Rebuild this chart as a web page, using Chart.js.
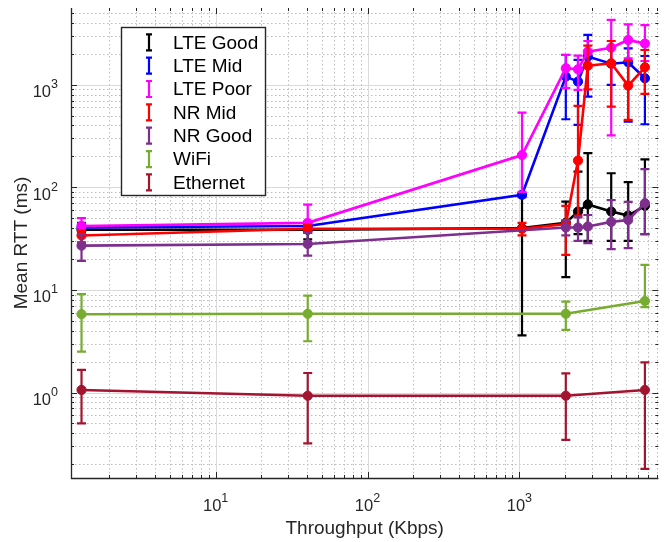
<!DOCTYPE html>
<html><head><meta charset="utf-8">
<script src="https://cdn.jsdelivr.net/npm/chart.js@4.4.0/dist/chart.umd.min.js"></script>
<style>html,body{margin:0;padding:0;background:#fff;overflow:hidden}canvas{display:block}</style>
</head><body>
<canvas id="c" width="664" height="542" style="width:664px;height:542px"></canvas>
<script>
// ---- data ----
const throughput = [1.31, 40.4, 1040, 2020, 2430, 2820, 4020, 5200, 6700];
const seriesNames = ['LTE Good', 'LTE Mid', 'LTE Poor', 'NR Mid', 'NR Good', 'WiFi', 'Ethernet'];
const seriesColors = ['#000000', '#0000ff', '#ff00ff', '#ff0000', '#7e2f8e', '#77ac30', '#a2142f'];

const lteGoodMean = [38.5, 38.5, 40, 45, 58, 68, 58, 53, 66];
const lteGoodLow  = [34, 31, 3.6, 13.3, 35, 30, 30, 30, 35];
const lteGoodHigh = [43, 45, 85, 72.6, 142, 215, 137, 112, 187];

const lteMidMean = [40.5, 42, 84.4, 1197, 1070, 1875, 1600, 1650, 1154];
const lteMidLow  = [37, 38, 80, 460, 405, 764, 993, 437, 411];
const lteMidHigh = [45, 46, 210, 1950, 1740, 3050, 2300, 2260, 1900];

const ltePoorMean = [42, 45, 206, 1445, 1410, 2095, 2290, 2725, 2510];
const ltePoorLow  = [38, 40, 90, 923, 888, 1500, 321, 1800, 1700];
const ltePoorHigh = [50, 67.6, 533, 1945, 1920, 2660, 4270, 3870, 3800];

const nrMidMean = [33.9, 39.4, 39.4, 43.8, 182, 1530, 1615, 978, 1475];
const nrMidLow  = [29, 36, 34, 21.9, 53, 900, 611, 453, 811];
const nrMidHigh = [38, 43, 45, 66, 620, 2400, 2660, 1700, 2176];

const nrGoodMean = [27, 28, null, 40.5, 40.5, 41.5, 46, 48, 70];
const nrGoodLow  = [19.2, 21.6, null, 34, 30, 28.6, 25, 25.5, 35];
const nrGoodHigh = [35, 36, null, 48, 51, 53.7, 75, 72, 150];

const wifiMean = [5.8, 5.85, null, 5.85, null, null, null, null, 7.8];
const wifiLow  = [2.5, 3.16, null, 4.07, null, null, null, null, 6.8];
const wifiHigh = [9.1, 8.8, null, 7.7, null, null, null, null, 17.5];

const ethMean = [1.06, 0.93, null, 0.93, null, null, null, null, 1.06];
const ethLow  = [0.5, 0.32, null, 0.345, null, null, null, null, 0.18];
const ethHigh = [1.66, 1.55, null, 1.54, null, null, null, null, 1.97];

const xTickValues = [10, 100, 1000];
const xTickExponents = ['1', '2', '3'];
const yTickValues = [1, 10, 100, 1000];
const yTickExponents = ['0', '1', '2', '3'];
const xTitle = 'Throughput (Kbps)';
const yTitle = 'Mean RTT (ms)';
const xLimits = [1.117, 8220];
const yLimits = [0.147, 5580];

const means = [lteGoodMean, lteMidMean, ltePoorMean, nrMidMean, nrGoodMean, wifiMean, ethMean];
const lows  = [lteGoodLow, lteMidLow, ltePoorLow, nrMidLow, nrGoodLow, wifiLow, ethLow];
const highs = [lteGoodHigh, lteMidHigh, ltePoorHigh, nrMidHigh, nrGoodHigh, wifiHigh, ethHigh];

// ---- rendering ----
const FONT = '"Liberation Sans", Arial, Helvetica, sans-serif';
const AX = '#262626';

function decadeMultiples(min, max) {
  const out = [];
  for (let e = Math.floor(Math.log10(min)); e <= Math.ceil(Math.log10(max)); e++) {
    for (let m = 1; m <= 9; m++) {
      const v = m * Math.pow(10, e);
      if (v >= min && v <= max) out.push({v, major: m === 1});
    }
  }
  return out;
}

const matlabPlugin = {
  id: 'matlabLook',
  beforeDatasetsDraw(chart) {
    const {ctx, chartArea: a, scales: {x, y}} = chart;
    const xs = decadeMultiples(x.min, x.max), ys = decadeMultiples(y.min, y.max);
    ctx.save();
    ctx.lineWidth = 1;
    ctx.strokeStyle = '#bdbdbd';
    ctx.setLineDash([1.5, 2.5]);
    ctx.beginPath();
    xs.filter(t => !t.major).forEach(t => { const p = Math.round(x.getPixelForValue(t.v)) + 0.5; ctx.moveTo(p, a.top); ctx.lineTo(p, a.bottom); });
    ys.filter(t => !t.major).forEach(t => { const p = Math.round(y.getPixelForValue(t.v)) + 0.5; ctx.moveTo(a.left, p); ctx.lineTo(a.right, p); });
    ctx.stroke();
    ctx.setLineDash([]);
    ctx.strokeStyle = '#dadada';
    ctx.beginPath();
    xs.filter(t => t.major).forEach(t => { const p = Math.round(x.getPixelForValue(t.v)) + 0.5; ctx.moveTo(p, a.top); ctx.lineTo(p, a.bottom); });
    ys.filter(t => t.major).forEach(t => { const p = Math.round(y.getPixelForValue(t.v)) + 0.5; ctx.moveTo(a.left, p); ctx.lineTo(a.right, p); });
    ctx.stroke();
    ctx.restore();
  },
  beforeDatasetDraw(chart, args) {
    const i = args.index;
    const {ctx, chartArea: a, scales: {x, y}} = chart;
    ctx.save();
    ctx.beginPath(); ctx.rect(a.left, a.top, a.right - a.left, a.bottom - a.top); ctx.clip();
    ctx.strokeStyle = seriesColors[i];
    ctx.lineWidth = 2.2;
    ctx.beginPath();
    throughput.forEach((t, k) => {
      if (means[i][k] == null) return;
      const px = x.getPixelForValue(t);
      const yl = y.getPixelForValue(lows[i][k]);
      const yh = y.getPixelForValue(highs[i][k]);
      ctx.moveTo(px, yl); ctx.lineTo(px, yh);
      ctx.moveTo(px - 4.5, yl); ctx.lineTo(px + 4.5, yl);
      ctx.moveTo(px - 4.5, yh); ctx.lineTo(px + 4.5, yh);
    });
    ctx.stroke();
    ctx.restore();
  },
  afterDatasetsDraw(chart) {
    const {ctx, chartArea: a, scales: {x, y}} = chart;
    const xs = decadeMultiples(x.min, x.max), ys = decadeMultiples(y.min, y.max);
    ctx.save();
    ctx.strokeStyle = AX;
    ctx.lineWidth = 1;
    ctx.beginPath();
    xs.forEach(t => {
      const p = Math.round(x.getPixelForValue(t.v)) + 0.5, L = t.major ? 6 : 3;
      ctx.moveTo(p, a.bottom); ctx.lineTo(p, a.bottom - L);
      ctx.moveTo(p, a.top); ctx.lineTo(p, a.top + L);
    });
    ys.forEach(t => {
      const p = Math.round(y.getPixelForValue(t.v)) + 0.5, L = t.major ? 6 : 3;
      ctx.moveTo(a.left, p); ctx.lineTo(a.left + L, p);
      ctx.moveTo(a.right, p); ctx.lineTo(a.right - L, p);
    });
    ctx.stroke();
    ctx.lineWidth = 1.3;
    ctx.beginPath();
    ctx.moveTo(a.left + 0.5, a.top); ctx.lineTo(a.left + 0.5, a.bottom + 0.5); ctx.lineTo(a.right, a.bottom + 0.5);
    ctx.stroke();
    ctx.restore();
  },
  afterDraw(chart) {
    const {ctx, chartArea: a, scales: {x, y}} = chart;
    ctx.save();
    ctx.fillStyle = AX;
    ctx.textBaseline = 'alphabetic';
    const big = '16.5px ' + FONT, small = '12.5px ' + FONT;
    // x tick labels
    xTickValues.forEach((v, k) => {
      const p = x.getPixelForValue(v);
      ctx.font = big; const w1 = ctx.measureText('10').width;
      ctx.font = small; const w2 = ctx.measureText(xTickExponents[k]).width;
      const left = p - (w1 + w2) / 2;
      ctx.font = big; ctx.textAlign = 'left'; ctx.fillText('10', left, 511);
      ctx.font = small; ctx.fillText(xTickExponents[k], left + w1, 502);
    });
    // y tick labels
    yTickValues.forEach((v, k) => {
      const p = y.getPixelForValue(v);
      ctx.font = small; const w2 = ctx.measureText(yTickExponents[k]).width;
      ctx.textAlign = 'right';
      ctx.fillText(yTickExponents[k], 58, p + 3.5);
      ctx.font = big; ctx.fillText('10', 58 - w2, p + 12.5);
    });
    // axis titles
    ctx.font = '19px ' + FONT;
    ctx.textAlign = 'center';
    ctx.fillText(xTitle, (a.left + a.right) / 2, 534);
    ctx.save();
    ctx.translate(27, (a.top + a.bottom) / 2);
    ctx.rotate(-Math.PI / 2);
    ctx.fillText(yTitle, 0, 0);
    ctx.restore();
    // legend
    const bx = 121.5, by = 27.5, bw = 144, bh = 168;
    ctx.fillStyle = '#ffffff';
    ctx.fillRect(bx, by, bw, bh);
    ctx.strokeStyle = AX; ctx.lineWidth = 1.4;
    ctx.strokeRect(bx, by, bw, bh);
    ctx.font = '19px ' + FONT;
    ctx.textAlign = 'left'; ctx.textBaseline = 'middle';
    seriesNames.forEach((name, k) => {
      const ry = 42.3 + k * 23.35;
      ctx.strokeStyle = seriesColors[k]; ctx.lineWidth = 2.2;
      ctx.beginPath();
      ctx.moveTo(149, ry - 8); ctx.lineTo(149, ry + 8);
      ctx.moveTo(146, ry - 8); ctx.lineTo(152, ry - 8);
      ctx.moveTo(146, ry + 8); ctx.lineTo(152, ry + 8);
      ctx.stroke();
      ctx.fillStyle = '#000000';
      ctx.fillText(name, 173, ry + 1);
    });
    ctx.restore();
  }
};

const datasets = seriesNames.map((name, i) => ({
  label: name,
  data: throughput.map((t, k) => means[i][k] == null ? null : {x: t, y: means[i][k]}).filter(p => p),
  borderColor: seriesColors[i],
  backgroundColor: seriesColors[i],
  pointBackgroundColor: seriesColors[i],
  pointBorderColor: seriesColors[i],
  borderWidth: 2.6,
  pointRadius: 4.6,
  pointBorderWidth: 1,
  tension: 0,
  order: seriesNames.length - i
}));

new Chart(document.getElementById('c'), {
  type: 'line',
  data: {datasets},
  options: {
    responsive: false,
    animation: false,
    devicePixelRatio: 1,
    layout: {padding: {top: 8, left: 0, right: 0, bottom: 0}},
    plugins: {legend: {display: false}, tooltip: {enabled: false}, title: {display: false}},
    scales: {
      x: {
        type: 'logarithmic', min: xLimits[0], max: xLimits[1],
        ticks: {display: false}, grid: {display: false}, border: {display: false},
        afterFit(s) { s.height = 64; }
      },
      y: {
        type: 'logarithmic', min: yLimits[0], max: yLimits[1],
        ticks: {display: false}, grid: {display: false}, border: {display: false},
        afterFit(s) { s.width = 71; }
      }
    }
  },
  plugins: [matlabPlugin]
});
</script>
</body></html>
